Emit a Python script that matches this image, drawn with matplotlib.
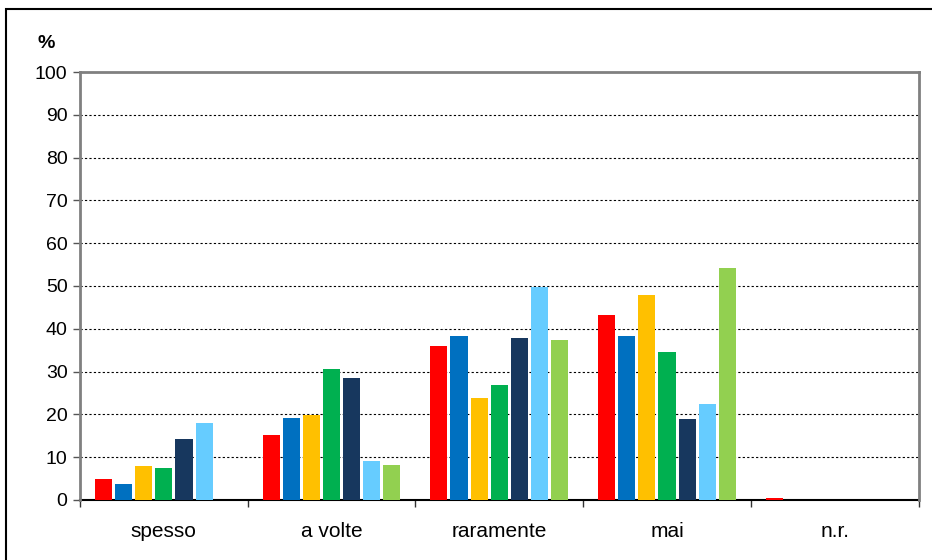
import numpy as np
import matplotlib.pyplot as plt
from matplotlib.patches import Rectangle

plt.rcParams['font.family'] = ['Liberation Sans', 'DejaVu Sans']

# data (%)
categories = ['spesso', 'a volte', 'raramente', 'mai', 'n.r.']
serie_1 = [4.9, 15.2, 36.0, 43.2, 0.5]
serie_2 = [3.7, 19.2, 38.3, 38.3, 0.0]
serie_3 = [7.9, 19.9, 23.8, 47.9, 0.0]
serie_4 = [7.5, 30.6, 26.9, 34.6, 0.0]
serie_5 = [14.3, 28.5, 37.8, 19.0, 0.0]
serie_6 = [18.0, 9.1, 49.8, 22.4, 0.0]
serie_7 = [0.0, 8.2, 37.4, 54.2, 0.0]
yticks = [0, 10, 20, 30, 40, 50, 60, 70, 80, 90, 100]

series = [serie_1, serie_2, serie_3, serie_4, serie_5, serie_6, serie_7]
colors = ['#FF0000', '#0070C0', '#FFC000', '#00B050', '#17375E', '#66CCFF', '#92D050']

fig = plt.figure(figsize=(9.32, 5.6), dpi=100)

# outer frame (only top/left edges visible in the original)
fig.patches.append(Rectangle((6 / 932, -0.1), 1.0, (560 - 9) / 560 + 0.1,
                             transform=fig.transFigure, fill=False,
                             edgecolor='black', linewidth=1.5))

ax = fig.add_axes([80 / 932, 60 / 560, 838.5 / 932, 428 / 560])

x = np.arange(len(categories))
step = 0.12
width = 0.102
for j, (vals, col) in enumerate(zip(series, colors)):
    ax.bar(x + (j - 3) * step, vals, width=width, color=col, zorder=3)

ax.set_xlim(-0.5, len(categories) - 0.5)
ax.set_ylim(0, 100)
ax.set_yticks(yticks)
ax.set_yticklabels([str(v) for v in yticks], fontsize=14)

# category labels at centres, tick marks at the boundaries
ax.set_xticks(x)
ax.set_xticklabels(categories, fontsize=15)
ax.tick_params(axis='x', which='major', length=0, pad=16)
ax.set_xticks(np.arange(-0.5, len(categories)), minor=True)
ax.tick_params(axis='x', which='minor', length=5, width=1, color='#333333', direction='out')
ax.tick_params(axis='y', length=5, width=1, color='#555555', pad=4, direction='out')

for y in yticks[1:-1]:
    ax.axhline(y, color='black', linewidth=0.8, linestyle=(0, (2, 2)), zorder=1)

for side in ['left', 'top', 'right']:
    ax.spines[side].set_color('#808080')
    ax.spines[side].set_linewidth(2)
ax.spines['bottom'].set_color('black')
ax.spines['bottom'].set_linewidth(1.5)
ax.spines['bottom'].set_zorder(2)

fig.text(37 / 932, 1 - 43 / 560, '%', fontsize=14, fontweight='bold', va='center', ha='left')

fig.savefig('out.png', dpi=100)
